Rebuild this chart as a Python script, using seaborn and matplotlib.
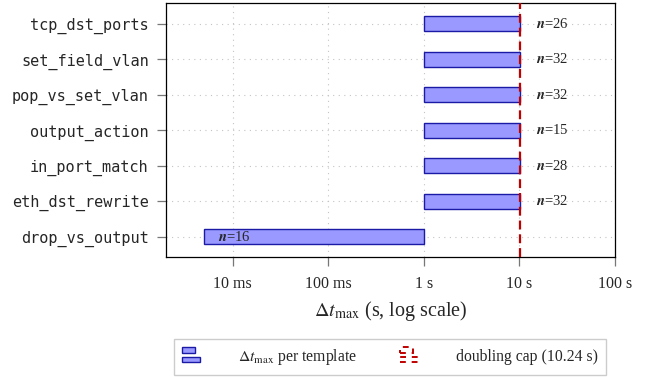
import matplotlib
matplotlib.use("Agg")
import matplotlib.pyplot as plt
import numpy as np
import pandas as pd
import seaborn as sns
from matplotlib.legend_handler import HandlerBase
from matplotlib.patches import Rectangle
from matplotlib.lines import Line2D

# data (seconds)
templates = ["tcp_dst_ports", "set_field_vlan", "pop_vs_set_vlan", "output_action",
             "in_port_match", "eth_dst_rewrite", "drop_vs_output"]
t_start = [1.0, 1.0, 1.0, 1.0, 1.0, 1.0, 0.005]
t_max = [10.24, 10.24, 10.24, 10.24, 10.24, 10.24, 1.0]
n_runs = [26, 32, 32, 15, 28, 32, 16]
cap = 10.24
xticks = [0.01, 0.1, 1, 10, 100]
xtick_labels = ["10 ms", "100 ms", "1 s", "10 s", "100 s"]

df = pd.DataFrame({"template": templates, "start": t_start, "end": t_max, "n": n_runs})

sns.set_theme(style="white")
plt.rcParams["font.family"] = ["Liberation Serif", "DejaVu Serif"]
plt.rcParams["mathtext.fontset"] = "stix"

fill = "#9999ff"
edge = "#1a1aa6"
red = "#c00000"

fig = plt.figure(figsize=(6.47, 3.77), dpi=100)
ax = fig.add_axes([0.2566, 0.3183, 0.694, 0.674])

ypos = np.arange(len(df))
ax.barh(ypos, df["end"] - df["start"], left=df["start"], height=0.42,
        color=fill, edgecolor=edge, linewidth=1.0, zorder=2)
ax.axvline(cap, color=red, lw=1.6, ls=(0, (4, 2.2)), zorder=3)

# n labels: outside if the bar reaches the cap, else inside at its left end
for y, (s, e, n) in enumerate(zip(df["start"], df["end"], df["n"])):
    if e >= cap * 0.99:
        ax.annotate(r"$\mathbfit{n}$=" + str(n), (e, y), xytext=(11, 0),
                    textcoords="offset points", ha="left", va="center", fontsize=10.5, zorder=4)
    else:
        ax.annotate(r"$\mathbfit{n}$=" + str(n), (s, y), xytext=(10, 0),
                    textcoords="offset points", ha="left", va="center", fontsize=10.5, zorder=4)

ax.set_xscale("log")
ax.set_xlim(0.002, 100)
ax.set_ylim(6.57, -0.59)
ax.set_xticks(xticks)
ax.set_xticklabels(xtick_labels, fontsize=11.5)
ax.xaxis.set_minor_locator(matplotlib.ticker.NullLocator())
ax.set_yticks(ypos)
ax.set_yticklabels(df["template"], fontsize=11, family="DejaVu Sans Mono")
ax.tick_params(axis="both", which="major", length=6.5, width=0.9, color="#777777",
               direction="out", left=True, bottom=True)
ax.tick_params(axis="y", pad=6)
ax.tick_params(axis="x", pad=7)
ax.grid(True, which="major", ls=(0, (1, 4)), color="#c4c4c4", lw=0.8, zorder=0)
ax.set_axisbelow(True)
for sp in ax.spines.values():
    sp.set_color("black")
    sp.set_linewidth(0.9)

ax.set_xlabel(r"$\Delta t_{\max}$ (s, log scale)", fontsize=14.5, labelpad=5)


class TwoBars(HandlerBase):
    def __init__(self, face, line, ls="-"):
        super().__init__()
        self.face, self.line, self.ls = face, line, ls

    def create_artists(self, legend, orig, xd, yd, w, h, fontsize, trans):
        x0, y0 = -xd, -yd
        lw = 1.0 if self.ls == "-" else 1.4
        r1 = Rectangle((x0, y0 + h * 0.68), w * 0.75, h * 0.3, facecolor=self.face,
                       edgecolor=self.line, lw=lw, ls=self.ls, transform=trans)
        r2 = Rectangle((x0, y0 + h * 0.1), w, h * 0.3, facecolor=self.face,
                       edgecolor=self.line, lw=lw, ls=self.ls, transform=trans)
        return [r1, r2]


h_bar = Rectangle((0, 0), 1, 1)
h_cap = Line2D([0], [0])
fig.legend([h_bar, h_cap], [r"$\Delta t_{\max}$ per template", "doubling cap (10.24 s)"],
           handler_map={h_bar: TwoBars(fill, edge),
                        h_cap: TwoBars("none", red, (0, (3, 3)))},
           loc="lower center", bbox_to_anchor=(0.603, 0.006), ncol=2, fontsize=11.3,
           frameon=True, fancybox=False, edgecolor="#cccccc", framealpha=1,
           handlelength=1.15, handleheight=1.3, handletextpad=2.45, columnspacing=2.7,
           borderpad=0.5, borderaxespad=0.0)

plt.savefig("out.png", dpi=100)
